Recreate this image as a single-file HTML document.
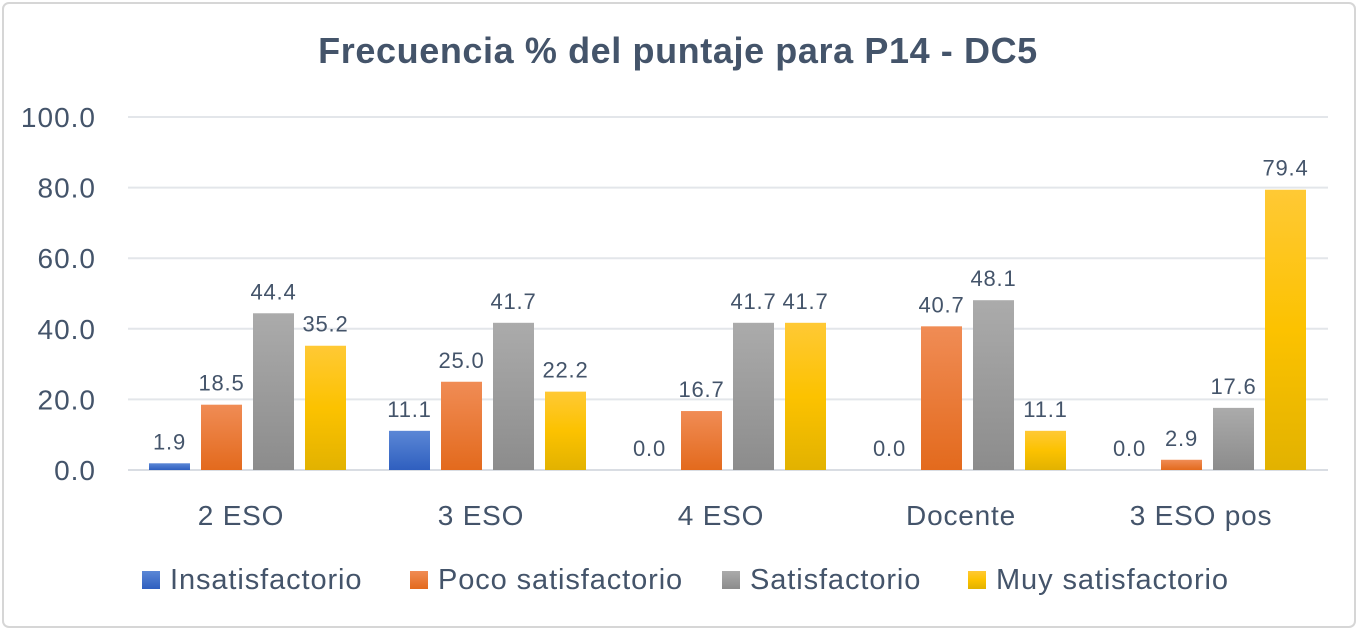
<!DOCTYPE html>
<html><head><meta charset="utf-8"><style>
body{margin:0;background:#fff;}
svg{display:block;font-family:"Liberation Sans",sans-serif;}
</style></head><body>
<svg id="chart" width="1359" height="631">
<defs>
<linearGradient id="g0" x1="0" y1="0" x2="0" y2="1"><stop offset="0" stop-color="#5b87d6"/><stop offset="1" stop-color="#2f5fbf"/></linearGradient>
<linearGradient id="g1" x1="0" y1="0" x2="0" y2="1"><stop offset="0" stop-color="#f08c55"/><stop offset="1" stop-color="#e36a1d"/></linearGradient>
<linearGradient id="g2" x1="0" y1="0" x2="0" y2="1"><stop offset="0" stop-color="#ababab"/><stop offset="1" stop-color="#8c8c8c"/></linearGradient>
<linearGradient id="g3" x1="0" y1="0" x2="0" y2="1"><stop offset="0" stop-color="#ffc935"/><stop offset="0.5" stop-color="#fcc200"/><stop offset="1" stop-color="#e2b200"/></linearGradient>
</defs>
<rect x="3" y="3" width="1352" height="624" rx="6" fill="#fff" stroke="#d6d6d6" stroke-width="2"/>
<text x="678" y="63" text-anchor="middle" font-size="36" font-weight="bold" letter-spacing="0.6" fill="#44546a">Frecuencia % del puntaje para P14 - DC5</text>
<g id="grid"></g><g id="bars"></g><g id="legend"></g>
</svg>
<script>
const categories=["2 ESO","3 ESO","4 ESO","Docente","3 ESO pos"];
const seriesNames=["Insatisfactorio","Poco satisfactorio","Satisfactorio","Muy satisfactorio"];
const insatisfactorio=[1.9,11.1,0.0,0.0,0.0];
const pocoSatisfactorio=[18.5,25.0,16.7,40.7,2.9];
const satisfactorio=[44.4,41.7,41.7,48.1,17.6];
const muySatisfactorio=[35.2,22.2,41.7,11.1,79.4];
const yTicks=[0,20,40,60,80,100];
const series=[insatisfactorio,pocoSatisfactorio,satisfactorio,muySatisfactorio];
const NS="http://www.w3.org/2000/svg";
const left=128,catW=240,y0=470,yTop=117;
const y=v=>y0-(v/100)*(y0-yTop);
const fills=["url(#g0)","url(#g1)","url(#g2)","url(#g3)"];
function mk(t,a,p){const e=document.createElementNS(NS,t);for(const k in a)e.setAttribute(k,a[k]);p.appendChild(e);return e;}
const grid=document.getElementById('grid');
yTicks.forEach(t=>{
 const l=mk('line',{x1:left,x2:left+catW*5,y1:y(t),y2:y(t),stroke:t===0?'#d9dde3':'#e3e6ea','stroke-width':2},grid);
 
 
 const tx=mk('text',{x:96,y:y(t)+10,'text-anchor':'end','font-size':28,'letter-spacing':1,fill:'#44546a'},grid);
 tx.textContent=t.toFixed(1);
 
 
});
const bars=document.getElementById('bars');
categories.forEach((c,i)=>{
 const cx=left+catW*i+catW/2;
 series.forEach((s,j)=>{
  const bx=cx-99+j*52, v=s[i];
  const r=mk('rect',{x:bx,y:y(v),width:41,height:y0-y(v),fill:fills[j]},bars);
  
  
  const t=mk('text',{x:bx+20.5,y:y(v)-14,'text-anchor':'middle','font-size':22,'letter-spacing':0.8,fill:'#44546a'},bars);
  t.textContent=v.toFixed(1);
  
  
 });
 const t=mk('text',{x:cx-7,y:525,'text-anchor':'middle','font-size':28,'letter-spacing':0.8,fill:'#44546a'},bars);
 t.textContent=c;
 
 
});
const lg=document.getElementById('legend');
const lx=[142,410,722,968];
seriesNames.forEach((n,j)=>{
 const r=mk('rect',{x:lx[j],y:571,width:18,height:18,fill:fills[j]},lg);
 
 
 const t=mk('text',{x:lx[j]+28,y:589,'font-size':29,'letter-spacing':0.9,fill:'#44546a'},lg);
 t.textContent=n;
 
 
});
</script>
</body></html>
